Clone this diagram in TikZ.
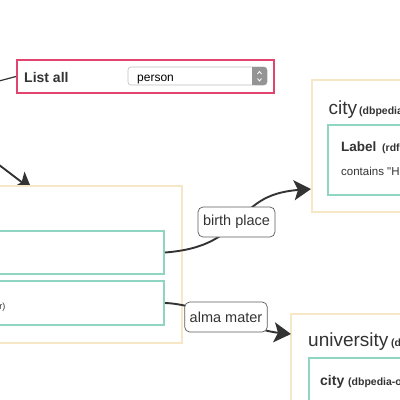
\documentclass[tikz,border=0pt]{standalone}
\usepackage{fontspec}
\setmainfont{Liberation Sans}
\usetikzlibrary{arrows.meta}
\definecolor{ink}{HTML}{333333}
\definecolor{cream}{HTML}{F6E8C6}
\definecolor{teal}{HTML}{8FD5C1}
\definecolor{pinkb}{HTML}{E0446F}
\tikzset{
  panel/.style={draw=cream, line width=1.6pt, fill=white},
  field/.style={draw=teal, line width=2pt, fill=white},
  txt/.style={anchor=base west, inner sep=0pt, text=ink},
  small/.style={txt, font=\bfseries\fontsize{10.5}{12}\selectfont},
  conn/.style={draw=ink, line width=1.9pt, -{Stealth[length=17pt,width=20pt,inset=4pt]}},
  lbl/.style={draw=ink!80, line width=0.7pt, rounded corners=5pt, fill=white, text=ink,
    inner xsep=5pt, minimum height=30pt, font=\fontsize{14.5}{16}\selectfont},
}
\begin{document}
\begin{tikzpicture}[x=1pt,y=-1pt]
\useasboundingbox (0,0) rectangle (400,400);
\clip (0,0) rectangle (400,400);
\fill[white] (0,0) rectangle (400,400);

% List all box
\node[draw=pinkb, line width=2pt, fill=white, minimum width=257pt, minimum height=33pt, inner sep=0pt] (listall) at (145.5,76.5) {};
\coordinate (lin) at (-1,81);
\draw[ink, line width=1.2pt] (lin) -- (listall.west);
\node[txt, font=\bfseries\fontsize{14}{16}\selectfont] (lat) at (24,82) {List all};
\node[draw=black!25, line width=0.6pt, rounded corners=3pt, fill=white, minimum width=139pt, minimum height=18pt, inner sep=0pt] (dd) at (197.5,76) {};
\fill[black!42, rounded corners=3pt] (252,67) rectangle (267,85);
\fill[black!42] (252,67) rectangle (258,85);
\node[txt, font=\fontsize{12}{14}\selectfont, text=black] (ddt) at (137,81) {person};
\draw[white, line width=0.8pt] (257.5,74) -- (259.5,71.5) -- (261.5,74);
\draw[white, line width=0.8pt] (257.5,78.5) -- (259.5,81) -- (261.5,78.5);

% incoming arrow from top-left
\coordinate (inA) at (-10,158);
\coordinate (inB) at (32,190);
\draw[conn] (inA) -- (inB);

% person panel
\node[panel, minimum width=200pt, minimum height=157pt, inner sep=0pt] (person) at (82,264.5) {};
\node[field, minimum width=190pt, minimum height=43pt, inner sep=0pt] (f1) at (69,252.5) {};
\node[field, minimum width=190pt, minimum height=44pt, inner sep=0pt] (f2) at (69,303) {};
\node[anchor=base east, inner sep=0pt, text=ink, font=\fontsize{9}{10}\selectfont] (f2t) at (5.5,309) {(dbpedia-owl:almaMater)};

% city panel
\node[panel, minimum width=110pt, minimum height=132pt, inner sep=0pt] (city) at (367,146) {};
\node[txt, font=\fontsize{19}{21}\selectfont] (cityh) at (328.5,114) {city};
\node[small] (citys) at (359,114) {(dbpedia-owl:city)};
\node[field, minimum width=90pt, minimum height=70pt, inner sep=0pt] (labf) at (373,160) {};
\node[txt, font=\bfseries\fontsize{13.5}{15}\selectfont] (labh) at (341,151.5) {Label};
\node[small] (labs) at (382,151.5) {(rdfs:label)};
\node[txt, font=\fontsize{11.5}{13}\selectfont] (labc) at (341,175) {contains \textquotedbl H};

% university panel
\node[panel, minimum width=130pt, minimum height=110pt, inner sep=0pt] (univ) at (356,369) {};
\node[txt, font=\fontsize{19}{21}\selectfont] (univh) at (308,346) {university};
\node[small] (univs) at (391,346) {(dbpedia-owl:university)};
\node[field, minimum width=110pt, minimum height=60pt, inner sep=0pt] (ucity) at (364,388) {};
\node[txt, font=\bfseries\fontsize{14}{16}\selectfont] (ucityh) at (320,385) {city};
\node[small] (ucitys) at (348,385) {(dbpedia-owl:city)};

% connectors
\coordinate (cityin) at (311,189);
\coordinate (univin) at (291,334);
\draw[conn] (f1.east) .. controls (250,246) and (230,195) .. (cityin);
\draw[conn] (f2.east) .. controls (200,304) and (250,330) .. (univin);
\node[lbl] (bp) at (236.5,222) {birth place};
\node[lbl] (am) at (226,317) {alma mater};
\end{tikzpicture}
\end{document}
